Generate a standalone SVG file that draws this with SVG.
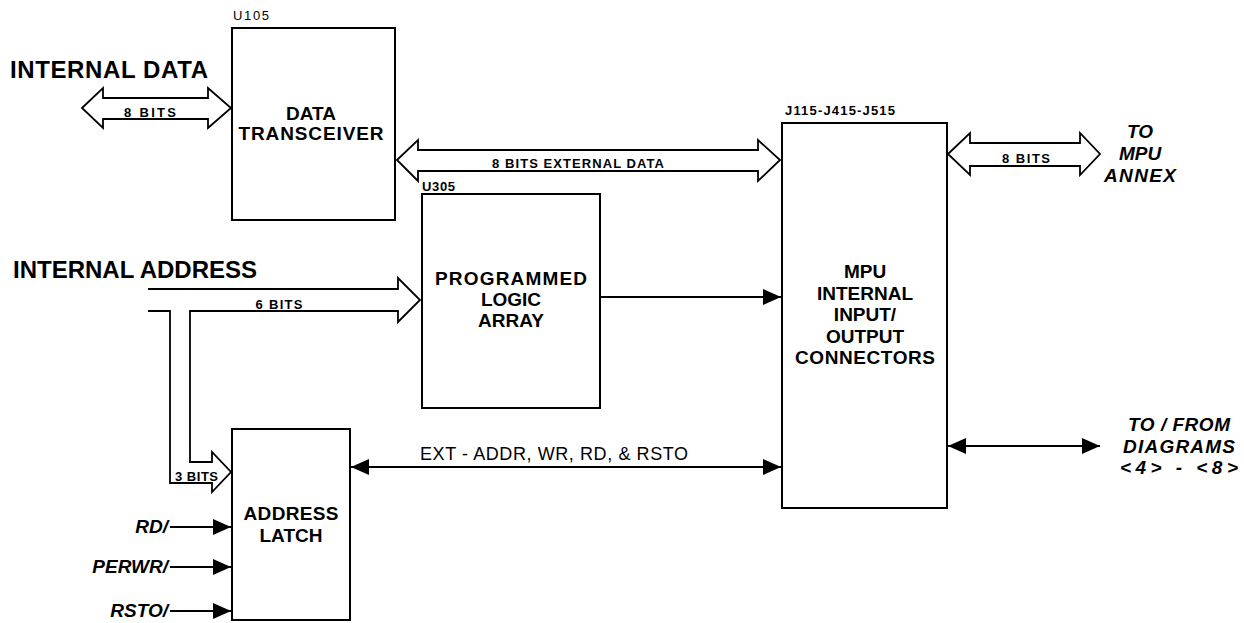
<svg xmlns="http://www.w3.org/2000/svg" width="1244" height="623" viewBox="0 0 1244 623">
<style>
.box{fill:#fff;stroke:#000;stroke-width:2}
.bus{fill:#fff;stroke:#000;stroke-width:1.8;stroke-linejoin:miter}
.wire{fill:none;stroke:#000;stroke-width:2}
.t{font-family:"Liberation Sans",Arial,sans-serif;fill:#000}
.lbl{font-weight:bold;font-size:19px;text-anchor:middle}
.big{font-weight:bold;font-size:24px}
.sm{font-size:13px;font-weight:bold}
.it{font-weight:bold;font-style:italic;font-size:19px}
</style>
<defs>
<marker id="ah" markerUnits="userSpaceOnUse" markerWidth="19" markerHeight="17" refX="18" refY="8" orient="auto-start-reverse">
<path d="M0,0 L18,8 L0,16 z" fill="#000"/>
</marker>
</defs>
<rect width="1244" height="623" fill="#fff"/>

<g id="connectors">
<path class="bus" d="M82,108 L103,88 V98 H208 V88 L231,108 L208,128 V119 H103 V128 Z"/>
<path class="bus" d="M397,160 L418,140 V150 H758 V140 L780,160 L758,181 V171 H418 V181 Z"/>
<path class="bus" d="M948,154 L970,133 V143 H1080 V133 L1100,154 L1080,175 V166 H970 V175 Z"/>
<path class="bus" d="M148,289 H398 V278 L420,300 L398,322 V311 H190 V462 H212 V452 L231,472 L212,492 V483 H170 V311 H148"/>
<line class="wire" x1="600" y1="297" x2="781" y2="297" marker-end="url(#ah)"/>
<line class="wire" x1="351" y1="467" x2="781" y2="467" marker-start="url(#ah)" marker-end="url(#ah)"/>
<line class="wire" x1="948" y1="446" x2="1100" y2="446" marker-start="url(#ah)" marker-end="url(#ah)"/>
<line class="wire" x1="170" y1="527" x2="231" y2="527" marker-end="url(#ah)"/>
<line class="wire" x1="170" y1="567" x2="231" y2="567" marker-end="url(#ah)"/>
<line class="wire" x1="170" y1="611" x2="231" y2="611" marker-end="url(#ah)"/>
<text class="t sm" x="150" y="117" text-anchor="middle" textLength="52">8 BITS</text>
<text class="t sm" x="578" y="168" text-anchor="middle" font-size="14" textLength="172">8 BITS EXTERNAL DATA</text>
<text class="t sm" x="1026" y="163" text-anchor="middle" textLength="48">8 BITS</text>
<text class="t sm" x="279" y="309" text-anchor="middle" textLength="47">6 BITS</text>
<text class="t sm" x="175" y="481" textLength="43">3 BITS</text>
<text class="t" x="420" y="460" font-size="18" textLength="268">EXT - ADDR, WR, RD, &amp; RSTO</text>
</g>

<g id="labels">
<text class="t big" x="10" y="78" textLength="198">INTERNAL DATA</text>
<text class="t big" x="13" y="278" textLength="244">INTERNAL ADDRESS</text>
<text class="t it" x="168" y="533" text-anchor="end">RD/</text>
<text class="t it" x="168" y="573" text-anchor="end">PERWR/</text>
<text class="t it" x="168" y="617" text-anchor="end">RSTO/</text>
<text class="t it" x="1140" y="138" text-anchor="middle">TO</text>
<text class="t it" x="1140" y="160" text-anchor="middle">MPU</text>
<text class="t it" x="1140" y="182" text-anchor="middle" textLength="72">ANNEX</text>
<text class="t it" x="1179" y="431" text-anchor="middle" textLength="102">TO / FROM</text>
<text class="t it" x="1179" y="453" text-anchor="middle" textLength="112">DIAGRAMS</text>
<text class="t it" x="1179" y="474" text-anchor="middle" textLength="118">&lt;4&gt; - &lt;8&gt;</text>
</g>

<g id="data-transceiver">
<rect class="box" x="232" y="28" width="163" height="192"/>
<text class="t" x="233" y="20" font-size="13" textLength="36">U105</text>
<text class="t lbl" x="311" y="120">DATA</text>
<text class="t lbl" x="311" y="140" textLength="145">TRANSCEIVER</text>
</g>

<g id="pla">
<rect class="box" x="422" y="194" width="178" height="214"/>
<text class="t sm" x="422" y="191" textLength="33">U305</text>
<text class="t lbl" x="511" y="285" textLength="152">PROGRAMMED</text>
<text class="t lbl" x="511" y="306">LOGIC</text>
<text class="t lbl" x="511" y="327">ARRAY</text>
</g>

<g id="address-latch">
<rect class="box" x="232" y="429" width="118" height="191"/>
<text class="t lbl" x="291" y="520" textLength="95">ADDRESS</text>
<text class="t lbl" x="291" y="542">LATCH</text>
</g>

<g id="mpu-connectors">
<rect class="box" x="782" y="123" width="165" height="385"/>
<text class="t sm" x="785" y="115" textLength="110">J115-J415-J515</text>
<text class="t lbl" x="865" y="278">MPU</text>
<text class="t lbl" x="865" y="300">INTERNAL</text>
<text class="t lbl" x="865" y="321">INPUT/</text>
<text class="t lbl" x="865" y="343">OUTPUT</text>
<text class="t lbl" x="865" y="364" textLength="140">CONNECTORS</text>
</g>
</svg>
